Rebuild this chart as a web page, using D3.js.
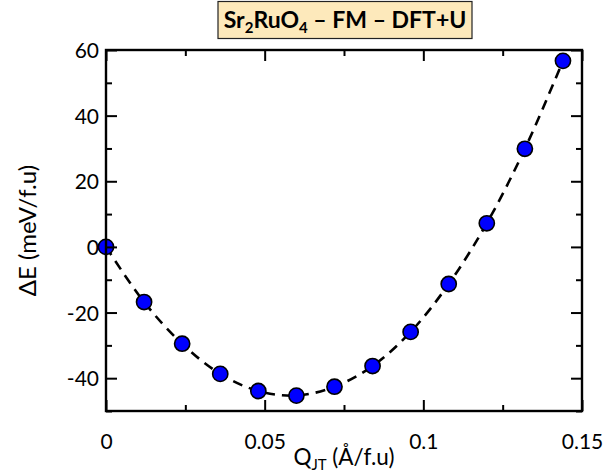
<!DOCTYPE html>
<html>
<head>
<meta charset="utf-8">
<script src="https://cdn.jsdelivr.net/npm/d3@7"></script>
<style>
  html, body { margin: 0; padding: 0; background: #fff; }
  svg { display: block; }
  text { font-family: Lato, "Open Sans", sans-serif; fill: #000; }
</style>
</head>
<body>
<svg id="chart" width="605" height="474"></svg>
<script>
// ---- data ----
const qJT = [0, 0.012, 0.024, 0.036, 0.048, 0.060, 0.072, 0.084, 0.096, 0.108, 0.120, 0.132, 0.144];
const deltaE = [0, -16.8, -29.5, -38.7, -43.9, -45.3, -42.6, -36.3, -25.9, -11.3, 7.2, 29.9, 56.7];
const xMajorTicks = [0, 0.05, 0.1, 0.15];
const xMinorTicks = [0.025, 0.075, 0.125];
const yMajorTicks = [-40, -20, 0, 20, 40, 60];
const yMinorTicks = [-50, -30, -10, 10, 30, 50];
const xTickLabels = ["0", "0.05", "0.1", "0.15"];
const yTickLabels = ["-40", "-20", "0", "20", "40", "60"];

// ---- layout ----
const L = 106, R = 582, T = 50, B = 411;
const svg = d3.select("#chart");

const x = d3.scaleLinear().domain([0, 0.15]).range([L, R]);
const y = d3.scaleLinear().domain([-50, 60]).range([B, T]);

const pts = qJT.map((q, i) => [q, deltaE[i]]);

// dashed curve
const line = d3.line().x(d => x(d[0])).y(d => y(d[1])).curve(d3.curveCatmullRom.alpha(0.5));
svg.append("path")
  .attr("d", line(pts))
  .attr("fill", "none")
  .attr("stroke", "#000")
  .attr("stroke-width", 2.6)
  .attr("stroke-dasharray", "10,7");

// markers
svg.append("g").selectAll("circle").data(pts).join("circle")
  .attr("cx", d => x(d[0]))
  .attr("cy", d => y(d[1]))
  .attr("r", 7.6)
  .attr("fill", "#0000ff")
  .attr("stroke", "#000")
  .attr("stroke-width", 1.6);

// axes (ticks inward on all sides)
const MAJ = 11, MIN = 6;
function xAxis(axisFn, ticks, len, labels) {
  return axisFn(x).tickValues(ticks).tickSizeInner(-len).tickSizeOuter(0)
    .tickFormat((d, i) => labels ? labels[i] : "");
}
function yAxis(axisFn, ticks, len, labels) {
  return axisFn(y).tickValues(ticks).tickSizeInner(-len).tickSizeOuter(0)
    .tickFormat((d, i) => labels ? labels[i] : "");
}
function style(g) {
  g.select(".domain").remove();
  g.selectAll(".tick line").attr("stroke", "#000").attr("stroke-width", 2);
  g.selectAll(".tick text").attr("font-family", "Lato, sans-serif").attr("font-size", 21).attr("fill", "#000");
}
// bottom
svg.append("g").attr("transform", `translate(0,${B})`).call(xAxis(d3.axisBottom, xMajorTicks, MAJ, xTickLabels)).call(style)
  .selectAll(".tick text").attr("y", 0).attr("dy", 0).attr("transform", "translate(0,38)");
svg.append("g").attr("transform", `translate(0,${B})`).call(xAxis(d3.axisBottom, xMinorTicks, MIN)).call(style);
// top
svg.append("g").attr("transform", `translate(0,${T})`).call(xAxis(d3.axisTop, xMajorTicks, MAJ)).call(style);
svg.append("g").attr("transform", `translate(0,${T})`).call(xAxis(d3.axisTop, xMinorTicks, MIN)).call(style);
// left
svg.append("g").attr("transform", `translate(${L},0)`).call(yAxis(d3.axisLeft, yMajorTicks, MAJ, yTickLabels)).call(style)
  .selectAll(".tick text").attr("x", -7).attr("dy", "0.36em");
svg.append("g").attr("transform", `translate(${L},0)`).call(yAxis(d3.axisLeft, yMinorTicks, MIN)).call(style);
// right
svg.append("g").attr("transform", `translate(${R},0)`).call(yAxis(d3.axisRight, yMajorTicks, MAJ)).call(style);
svg.append("g").attr("transform", `translate(${R},0)`).call(yAxis(d3.axisRight, yMinorTicks, MIN)).call(style);

// frame
svg.append("rect")
  .attr("x", L).attr("y", T).attr("width", R - L).attr("height", B - T)
  .attr("fill", "none").attr("stroke", "#000").attr("stroke-width", 2.4);

// axis titles
const xt = svg.append("text")
  .attr("x", (L + R) / 2).attr("y", 465)
  .attr("text-anchor", "middle").attr("font-size", 22.5);
xt.append("tspan").text("Q");
xt.append("tspan").attr("font-size", 15).attr("dy", 5).text("JT");
xt.append("tspan").attr("dy", -5).text(" (Å/f.u)");

svg.append("text")
  .attr("transform", `translate(36,${(T + B) / 2}) rotate(-90)`)
  .attr("text-anchor", "middle").attr("font-size", 24)
  .text("ΔE (meV/f.u)");

// title box
svg.append("rect")
  .attr("x", 218).attr("y", 1.5).attr("width", 254).attr("height", 37)
  .attr("fill", "#fde9bb").attr("stroke", "#222").attr("stroke-width", 1.2);
const tt = svg.append("text")
  .attr("x", 345).attr("y", 28)
  .attr("text-anchor", "middle").attr("font-size", 23).attr("font-weight", "bold");
tt.append("tspan").text("Sr");
tt.append("tspan").attr("font-size", 15).attr("dy", 5).text("2");
tt.append("tspan").attr("dy", -5).text("RuO");
tt.append("tspan").attr("font-size", 15).attr("dy", 5).text("4");
tt.append("tspan").attr("dy", -5).text(" – FM – DFT+U");
</script>
</body>
</html>
